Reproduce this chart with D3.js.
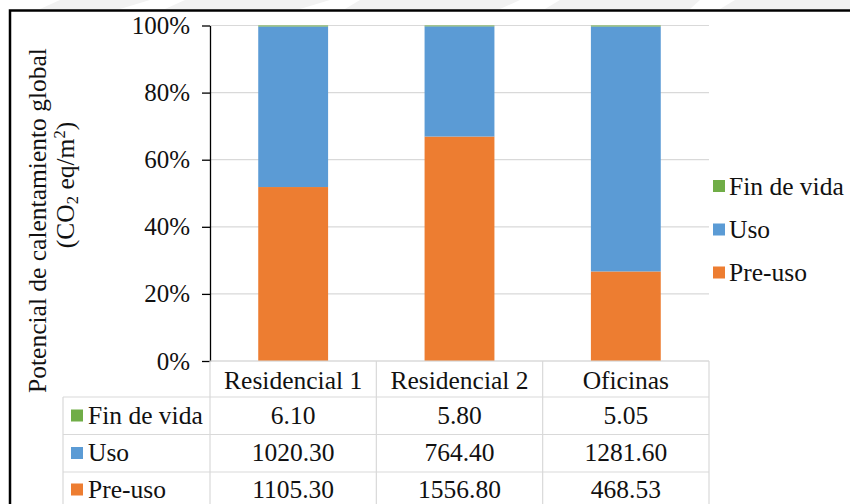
<!DOCTYPE html>
<html>
<head>
<meta charset="utf-8">
<script src="https://cdn.jsdelivr.net/npm/d3@7"></script>
<style>
  html, body { margin: 0; padding: 0; background: #fff; }
  svg { display: block; }
</style>
</head>
<body>
<svg id="chart" width="850" height="504"></svg>
<script>
// Building types
const categories = ["Residencial 1", "Residencial 2", "Oficinas"];
// Life-cycle stages, bottom of the stack first
const stages = ["Pre-uso", "Uso", "Fin de vida"];
// Global warming potential per stage (CO2 eq/m2)
const preUso = [1105.30, 1556.80, 468.53];
const uso = [1020.30, 764.40, 1281.60];
const finDeVida = [6.10, 5.80, 5.05];
// Percent axis ticks
const yTicks = [0, 0.2, 0.4, 0.6, 0.8, 1.0];

const colors = { "Pre-uso": "#ED7D31", "Uso": "#5B9BD5", "Fin de vida": "#70AD47" };
const seriesValues = { "Pre-uso": preUso, "Uso": uso, "Fin de vida": finDeVida };

const rows = categories.map((c, i) => ({
  category: c,
  "Pre-uso": preUso[i],
  "Uso": uso[i],
  "Fin de vida": finDeVida[i]
}));

const SERIF = "'Liberation Serif', 'Times New Roman', serif";
const FONT = 25.5;
const TICK_FONT = 25;

const svg = d3.select("#chart")
  .attr("font-family", SERIF)
  .style("font-family", SERIF);

// helper: serif text element
function txt(parent) {
  return parent.append("text").style("font-family", SERIF).attr("fill", "#111").attr("font-size", FONT);
}

// faint header strip at the very top
const strip = svg.append("g").attr("fill", "#f2f2f2");
[[60, 0, 150, 0, 120, 9, 40, 9], [185, 0, 330, 0, 300, 9, 165, 9],
 [360, 0, 520, 0, 500, 9, 345, 9], [560, 0, 700, 0, 690, 9, 545, 9],
 [735, 0, 850, 0, 850, 9, 720, 9]].forEach(p => {
  strip.append("polygon").attr("points", d3.range(0, p.length, 2).map(k => p[k] + "," + p[k + 1]).join(" "));
});

// outer frame
svg.append("rect")
  .attr("x", 10).attr("y", 10.5).attr("width", 900).attr("height", 600)
  .attr("fill", "none").attr("stroke", "#000").attr("stroke-width", 2.5);

const plotLeft = 210, plotRight = 709, plotTop = 25.5, plotBottom = 361;

const x = d3.scaleBand()
  .domain(categories)
  .range([plotLeft, plotRight])
  .paddingInner(0.58)
  .paddingOuter(0.29);

const y = d3.scaleLinear().domain([0, 1]).range([plotBottom, plotTop]);

// gridlines
svg.append("g")
  .selectAll("line")
  .data(yTicks)
  .join("line")
  .attr("x1", plotLeft).attr("x2", plotRight)
  .attr("y1", d => y(d)).attr("y2", d => y(d))
  .attr("stroke", "#d9d9d9").attr("stroke-width", 1.2);

// stacked bars, normalised to 100%
const stack = d3.stack().keys(stages).offset(d3.stackOffsetExpand);
const layers = stack(rows);

svg.append("g")
  .selectAll("g")
  .data(layers)
  .join("g")
  .attr("fill", d => colors[d.key])
  .selectAll("rect")
  .data(d => d)
  .join("rect")
  .attr("x", d => x(d.data.category))
  .attr("width", x.bandwidth())
  .attr("y", d => y(d[1]))
  .attr("height", d => y(d[0]) - y(d[1]));

// y axis
const yAxis = svg.append("g")
  .attr("transform", `translate(${plotLeft},0)`)
  .call(d3.axisLeft(y).tickValues(yTicks).tickFormat(d3.format(".0%"))
    .tickSizeInner(8).tickSizeOuter(0).tickPadding(12));
yAxis.attr("font-family", null);
yAxis.select(".domain").attr("stroke", "#000").attr("stroke-width", 1.3);
yAxis.selectAll(".tick line").attr("stroke", "#000").attr("stroke-width", 1.3);
yAxis.selectAll(".tick text")
  .style("font-family", SERIF)
  .attr("font-size", TICK_FONT).attr("fill", "#111");

// y axis title (two lines)
const title = svg.append("g");
txt(title)
  .attr("transform", "translate(46,220.5) rotate(-90)")
  .attr("text-anchor", "middle")
  .text("Potencial de calentamiento global");
const t2 = txt(title)
  .attr("transform", "translate(73.5,185) rotate(-90)")
  .attr("text-anchor", "middle");
t2.append("tspan").text("(CO");
t2.append("tspan").attr("font-size", FONT * 0.65).attr("dy", 4).text("2");
t2.append("tspan").attr("dy", -4).text(" eq/m");
t2.append("tspan").attr("font-size", FONT * 0.65).attr("dy", -9).text("2");
t2.append("tspan").attr("dy", 9).text(")");

// legend
const legendOrder = ["Fin de vida", "Uso", "Pre-uso"];
const legendY = [186, 229.5, 272.5];
const legend = svg.append("g");
legendOrder.forEach((k, i) => {
  legend.append("rect")
    .attr("x", 713).attr("y", legendY[i] - 6).attr("width", 12).attr("height", 12)
    .attr("fill", colors[k]);
  txt(legend)
    .attr("x", 729).attr("y", legendY[i]).attr("dy", "0.35em")
    .text(k);
});

// data table under the plot
const step = x.step();
const headerTop = plotBottom, headerBottom = 397;
const rowEdges = [397, 434.5, 472, 509.5];
const rowCenters = [415.5, 453, 489.5];
const tableLeft = 63;
const gridColor = "#d9d9d9";
const table = svg.append("g");

// horizontal rules
table.append("line").attr("x1", plotLeft).attr("x2", plotRight)
  .attr("y1", headerTop).attr("y2", headerTop).attr("stroke", gridColor).attr("stroke-width", 1.2);
rowEdges.forEach(yy => {
  table.append("line").attr("x1", tableLeft).attr("x2", plotRight)
    .attr("y1", yy).attr("y2", yy).attr("stroke", gridColor).attr("stroke-width", 1.2);
});
// vertical rules
table.append("line").attr("x1", tableLeft).attr("x2", tableLeft)
  .attr("y1", headerBottom).attr("y2", 520).attr("stroke", gridColor).attr("stroke-width", 1.2);
categories.forEach((c, i) => {
  const xl = plotLeft + i * step;
  table.append("line").attr("x1", xl).attr("x2", xl)
    .attr("y1", headerTop).attr("y2", 520).attr("stroke", gridColor).attr("stroke-width", 1.2);
});
table.append("line").attr("x1", plotRight).attr("x2", plotRight)
  .attr("y1", headerTop).attr("y2", 520).attr("stroke", gridColor).attr("stroke-width", 1.2);

// header labels
categories.forEach(c => {
  txt(table)
    .attr("x", x(c) + x.bandwidth() / 2).attr("y", (headerTop + headerBottom) / 2 + 1)
    .attr("dy", "0.35em").attr("text-anchor", "middle")
    .text(c);
});

// body rows
const fmt = d3.format(".2f");
legendOrder.forEach((k, r) => {
  const cy = rowCenters[r];
  table.append("rect")
    .attr("x", 71).attr("y", cy - 6).attr("width", 12).attr("height", 12)
    .attr("fill", colors[k]);
  txt(table)
    .attr("x", 88).attr("y", cy).attr("dy", "0.33em")
    .text(k);
  seriesValues[k].forEach((v, i) => {
    const c = categories[i];
    txt(table)
      .attr("x", x(c) + x.bandwidth() / 2).attr("y", cy).attr("dy", "0.33em")
      .attr("text-anchor", "middle")
      .text(fmt(v));
  });
});
</script>
</body>
</html>
